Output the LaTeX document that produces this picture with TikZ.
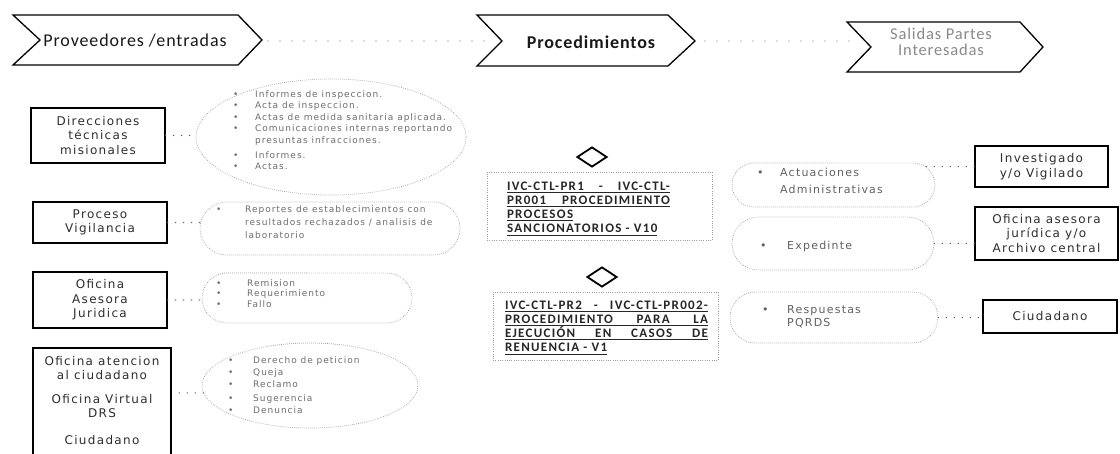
\documentclass[tikz,border=0pt]{standalone}
\usepackage{fontspec}
\usetikzlibrary{shapes.geometric,shapes.misc,calc}
\newfontfamily\chevfont{Carlito}[LetterSpace=5]
\newfontfamily\boxfont{DejaVu Sans}[LetterSpace=11]
\newfontfamily\ellfont{DejaVu Sans}[LetterSpace=11]
\newfontfamily\procfont{Carlito}[LetterSpace=10]
\definecolor{boxtxt}{HTML}{2E2E2E}
\definecolor{elltxt}{HTML}{6E6E6E}
\definecolor{ellline}{HTML}{9C9C9C}
\definecolor{outtxt}{HTML}{8A8A8A}
\newcommand\bul{\makebox[22pt][l]{\textbullet}}
\newcommand\ind{\hspace*{22pt}}
\newcommand\ulx[1]{\setbox0\hbox{#1}\rlap{\rule[-2.6pt]{\wd0}{0.9pt}}\box0}
\tikzset{
  chev/.style={draw=black, line width=1.3pt, line join=miter},
  srcbox/.style={draw=black, line width=1.3pt, inner sep=0pt, font=\boxfont\fontsize{12}{14.5}\selectfont, text=boxtxt, align=center},
  ellbox/.style={draw=ellline, line width=0.7pt, dash pattern=on 0.7pt off 1.3pt, inner sep=0pt},
  elltext/.style={inner sep=0pt, align=left, text=elltxt},
  procbox/.style={draw=ellline, line width=0.7pt, dash pattern=on 0.7pt off 1.6pt, inner sep=0pt},
  proctext/.style={inner sep=0pt, align=left, text=black!85, font=\procfont\bfseries\fontsize{13}{14.3}\selectfont},
  diam/.style={diamond, draw=black, line width=1.8pt, minimum width=30pt, minimum height=20pt, inner sep=0pt},
  dotconn/.style={draw=black!65, line width=1.4pt, line cap=round, dash pattern=on 0pt off 8pt},
  topconn/.style={draw=black!55, line width=1.3pt, line cap=round, dash pattern=on 0pt off 12pt},
}
\begin{document}
\begin{tikzpicture}[x=1pt,y=-1pt]
\useasboundingbox (0,0) rectangle (1120,453);
\fill[white] (0,0) rectangle (1120,453);

% top chevrons
\draw[chev] (13,15) -- (238,15) -- (262,40) -- (238,65) -- (13,65) -- (40,40) -- cycle;
\node[inner sep=0pt, font=\chevfont\fontsize{18}{20}\selectfont, text=black!90] (t1) at (135,41) {Proveedores /entradas};
\coordinate (c1tip) at (268,41);
\draw[chev] (477,15) -- (668,15) -- (695,41) -- (668,66) -- (477,66) -- (502,41) -- cycle;
\node[inner sep=0pt, font=\chevfont\bfseries\fontsize{18}{20}\selectfont, text=black!90] (t2) at (591,42) {Procedimientos};
\coordinate (c2notch) at (494,41);
\coordinate (c2tip) at (705,41);
\draw[chev] (847,22) -- (1020,22) -- (1043,47) -- (1020,72) -- (847,72) -- (871,47) -- cycle;
\node[inner sep=0pt, align=center, font=\chevfont\fontsize{16.5}{15.5}\selectfont, text=outtxt] (t3) at (941,42) {Salidas Partes\\Interesadas};
\coordinate (c3notch) at (851,41);
\draw[topconn] (c1tip) -- (c2notch);
\draw[topconn] (c2tip) -- (c3notch);

% left source boxes
\node[srcbox, minimum width=134pt, minimum height=55pt] (dir) at (98,135.5) {Direcciones\\técnicas\\misionales};
\node[srcbox, minimum width=134pt, minimum height=41pt] (pv) at (100,222.5) {Proceso\\Vigilancia};
\node[srcbox, minimum width=134pt, minimum height=56pt] (oaj) at (100,300) {Oficina\\Asesora\\Juridica};
\node[srcbox, minimum width=138pt, minimum height=124pt] (oac) at (102,410) {};
\node[inner sep=0pt, anchor=north, align=center, font=\boxfont\fontsize{12}{14}\selectfont, text=boxtxt] (oact) at (102,356) {Oficina atencion\\al ciudadano\\[10pt]Oficina Virtual\\DRS\\[13pt]Ciudadano};

% left ellipses
\node[ellbox, ellipse, minimum width=270pt, minimum height=116pt] (e1) at (331,137) {};
\node[elltext, anchor=north west, font=\ellfont\fontsize{9}{11.5}\selectfont] (e1t) at (233,90) {\bul Informes de inspeccion.\\\bul Acta de inspeccion.\\\bul Actas de medida sanitaria aplicada.\\\bul Comunicaciones internas reportando\\\ind presuntas infracciones.\\[3.5pt]\bul Informes.\\\bul Actas.};
\node[ellbox, rounded rectangle, minimum width=260pt, minimum height=53pt] (e2) at (330,228.5) {};
\node[elltext, anchor=north west, font=\ellfont\fontsize{9}{13}\selectfont] (e2t) at (216,205) {\makebox[29pt][l]{\textbullet}Reportes de establecimientos con\\\hspace*{29pt}resultados rechazados / analisis de\\\hspace*{29pt}laboratorio};
\node[ellbox, rounded rectangle, minimum width=210pt, minimum height=50pt] (e3) at (307,298) {};
\node[elltext, anchor=north west, font=\ellfont\fontsize{9}{10.5}\selectfont] (e3t) at (216,279) {\makebox[31pt][l]{\textbullet}Remision\\\makebox[31pt][l]{\textbullet}Requerimiento\\\makebox[31pt][l]{\textbullet}Fallo};
\node[ellbox, ellipse, minimum width=216pt, minimum height=85pt] (e4) at (310,385.5) {};
\node[elltext, anchor=north west, font=\ellfont\fontsize{9}{12}\selectfont] (e4t) at (228,356) {\makebox[25pt][l]{\textbullet}Derecho de peticion\\\makebox[25pt][l]{\textbullet}Queja\\\makebox[25pt][l]{\textbullet}Reclamo\\[2pt]\makebox[25pt][l]{\textbullet}Sugerencia\\\makebox[25pt][l]{\textbullet}Denuncia};

\draw[dotconn] (dir.east) -- (dir.east -| e1.west);
\draw[dotconn] (pv.east) -- (pv.east -| e2.west);
\draw[dotconn] (oaj.east) -- (oaj.east -| e3.west);
\draw[dotconn] (e4.184) -- (e4.184 -| oac.east);

% procedures
\node[diam] (d1) at (592,157) {};
\node[procbox, minimum width=225pt, minimum height=68pt] (p1) at (599.5,206) {};
\node[proctext] (p1t) at (588.5,208.5) {\ulx{\makebox[163pt][s]{IVC-CTL-PR1 - IVC-CTL-}}\\\ulx{\makebox[163pt][s]{PR001 PROCEDIMIENTO}}\\\ulx{PROCESOS}\\\ulx{SANCIONATORIOS - V10}};
\node[diam] (d2) at (602,277) {};
\node[procbox, minimum width=225pt, minimum height=68pt] (p2) at (605.5,326) {};
\node[proctext] (p2t) at (606.5,327.5) {\ulx{\makebox[203pt][s]{IVC-CTL-PR2 - IVC-CTL-PR002-}}\\\ulx{\makebox[203pt][s]{PROCEDIMIENTO PARA LA}}\\\ulx{\makebox[203pt][s]{EJECUCIÓN EN CASOS DE}}\\\ulx{RENUENCIA - V1}};

% right ellipses
\node[ellbox, rounded rectangle, minimum width=203pt, minimum height=44pt] (r1) at (833.5,185) {};
\node[elltext, anchor=north west, text=black!62, font=\ellfont\fontsize{11}{16.5}\selectfont] (r1t) at (757,168) {\makebox[23pt][l]{\textbullet}Actuaciones\\\hspace*{23pt}Administrativas};
\node[ellbox, rounded rectangle, minimum width=202pt, minimum height=53pt] (r2) at (833,243.5) {};
\node[elltext, anchor=west, text=black!62, font=\ellfont\fontsize{11}{14}\selectfont] (r2t) at (760,246) {\makebox[27pt][l]{\textbullet}Expedinte};
\node[ellbox, rounded rectangle, minimum width=208pt, minimum height=51pt] (r3) at (834,317.5) {};
\node[elltext, anchor=north west, text=black!62, font=\ellfont\fontsize{11}{13.5}\selectfont] (r3t) at (762,305) {\makebox[25pt][l]{\textbullet}Respuestas\\\hspace*{25pt}PQRDS};

% right boxes
\node[srcbox, minimum width=133pt, minimum height=41pt, font=\boxfont\fontsize{12}{15}\selectfont] (inv) at (1041.5,166.5) {Investigado\\y/o Vigilado};
\node[srcbox, minimum width=143pt, minimum height=53pt] (ofi) at (1046.5,233.5) {Oficina asesora\\jurídica y/o\\Archivo central};
\node[srcbox, minimum width=134pt, minimum height=33pt] (ciu) at (1050,316.5) {Ciudadano};

\coordinate (r1e) at (926,166.5);
\draw[dotconn] (inv.west) -- (r1e);
\draw[dotconn] (r2.east) -- (r2.east -| ofi.west);
\draw[dotconn] (r3.east) -- (r3.east -| ciu.west);
\end{tikzpicture}
\end{document}
